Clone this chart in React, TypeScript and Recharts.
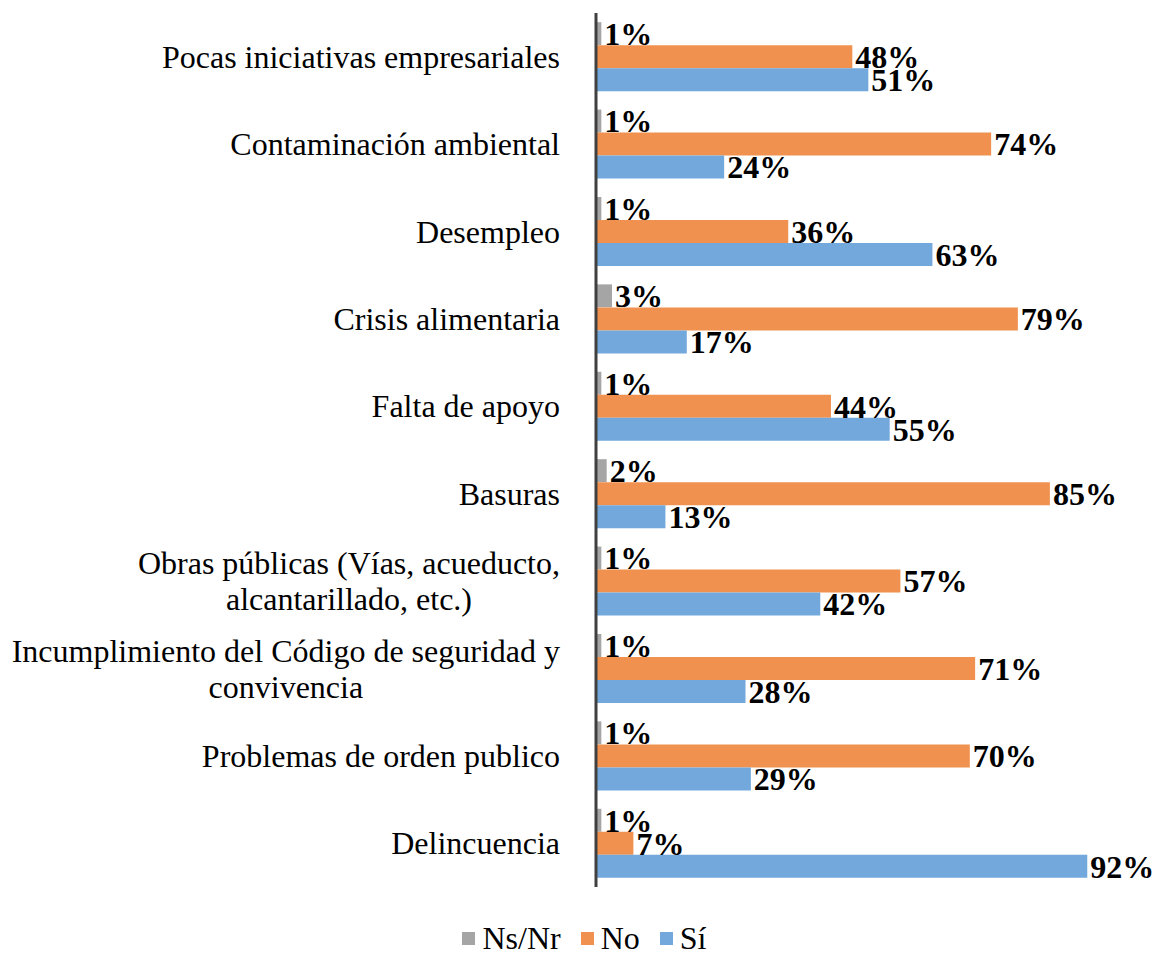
import React from 'react'
import { BarChart, Bar, XAxis, YAxis, LabelList } from 'recharts'

const categories = [
  'Pocas iniciativas empresariales',
  'Contaminación ambiental',
  'Desempleo',
  'Crisis alimentaria',
  'Falta de apoyo',
  'Basuras',
  'Obras públicas (Vías, acueducto,\nalcantarillado, etc.)',
  'Incumplimiento del Código de seguridad y\nconvivencia',
  'Problemas de orden publico',
  'Delincuencia',
]
const nsnr = [1, 1, 1, 3, 1, 2, 1, 1, 1, 1]
const no = [48, 74, 36, 79, 44, 85, 57, 71, 70, 7]
const si = [51, 24, 63, 17, 55, 13, 42, 28, 29, 92]

const series = [
  { key: 'nsnr', name: 'Ns/Nr', color: '#A5A5A5' },
  { key: 'no', name: 'No', color: '#F0914F' },
  { key: 'si', name: 'Sí', color: '#72A8DB' },
]

const data = categories.map((c, i) => ({ cat: c, nsnr: nsnr[i], no: no[i], si: si[i] }))

const FONT = '"Liberation Serif", "Times New Roman", serif'
const FS = 32

let ctx: CanvasRenderingContext2D | null = null
const measure = (s: string) => {
  if (!ctx) ctx = document.createElement('canvas').getContext('2d')
  if (!ctx) return s.length * FS * 0.45
  ctx.font = `${FS}px "Liberation Serif"`
  return ctx.measureText(s).width
}

// category labels: single lines right-aligned, wrapped ones centred as a block
const CatTick = (props: any) => {
  const { x, y, payload } = props
  const lines: string[] = String(payload.value).split('\n')
  const lh = 36
  const y0 = y - ((lines.length - 1) * lh) / 2
  if (lines.length === 1) {
    return (
      <text x={x} y={y} textAnchor="end" dominantBaseline="central" fontFamily={FONT} fontSize={FS} fill="#000">
        {lines[0]}
      </text>
    )
  }
  const w = Math.max(...lines.map(measure))
  return (
    <text textAnchor="middle" fontFamily={FONT} fontSize={FS} fill="#000">
      {lines.map((l, i) => (
        <tspan key={i} x={x - w / 2} y={y0 + i * lh} dominantBaseline="central">{l}</tspan>
      ))}
    </text>
  )
}

export default function App() {
  return (
    <div style={{ position: 'absolute', left: 0, top: 0, width: 1153, height: 954, background: '#fff' }}>
      <BarChart
        width={1153}
        height={954}
        data={data}
        layout="vertical"
        margin={{ top: 13, right: 23, bottom: 67, left: 0 }}
        barCategoryGap="10.5%"
        barGap={0}
      >
        <XAxis type="number" domain={[0, 100]} hide />
        <YAxis
          type="category"
          dataKey="cat"
          width={596}
          tickLine={false}
          tickSize={0}
          tickMargin={36}
          axisLine={{ stroke: '#404040', strokeWidth: 3 }}
          tick={<CatTick />}
          interval={0}
        />
        {series.map((s) => (
          <Bar key={s.key} dataKey={s.key} name={s.name} fill={s.color} isAnimationActive={false}>
            <LabelList
              dataKey={s.key}
              position="right"
              offset={3}
              formatter={(v: any) => `${v}%`}
              style={{ fontFamily: FONT, fontSize: FS, fontWeight: 'bold', fill: '#000' }}
            />
          </Bar>
        ))}
      </BarChart>
      <div
        style={{
          position: 'absolute',
          left: 8,
          top: 918,
          width: 1153,
          height: 40,
          display: 'flex',
          justifyContent: 'center',
          alignItems: 'center',
          fontFamily: FONT,
          fontSize: FS,
          color: '#000',
        }}
      >
        {series.map((s) => (
          <div key={s.key} style={{ display: 'flex', alignItems: 'center', margin: '0 10px' }}>
            <span style={{ width: 13, height: 13, background: s.color, display: 'inline-block', marginRight: 7 }} />
            <span>{s.name}</span>
          </div>
        ))}
      </div>
    </div>
  )
}
